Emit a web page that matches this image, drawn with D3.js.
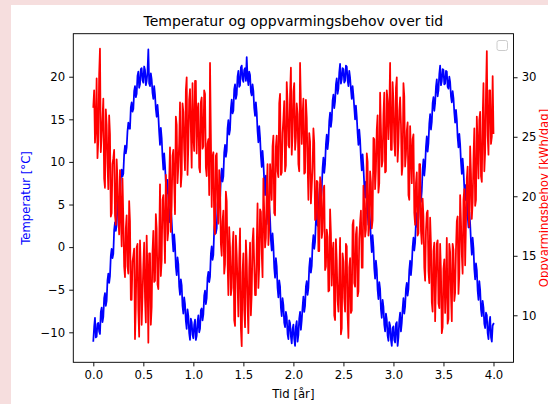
<!DOCTYPE html>
<html>
<head>
<meta charset="utf-8">
<script src="https://cdn.jsdelivr.net/npm/d3@7"></script>
<style>
  html, body { margin: 0; padding: 0; background: #f6dede; }
  svg { display: block; }
  text { font-family: "DejaVu Sans", sans-serif; }
</style>
</head>
<body>
<svg id="chart" width="548" height="404"></svg>
<script>
// ---- data ----
const title = "Temperatur og oppvarmingsbehov over tid";
const xLabel = "Tid [år]";
const yLeftLabel = "Temperatur [°C]";
const yRightLabel = "Oppvarmingsbehov [kWh/dag]";

const xTicks = [0.0, 0.5, 1.0, 1.5, 2.0, 2.5, 3.0, 3.5, 4.0];
const leftTicks = [-10, -5, 0, 5, 10, 15, 20];
const rightTicks = [10, 15, 20, 25, 30];

// sample times (years): grid samples and in-between samples, 120 per year
const years = d3.range(241).map(i => i / 60);
const yearsMid = d3.range(240).map(i => (i + 0.5) / 60);

const temperature = [
 -11.0,-8.3,-10.5,-8.9,-10.2,-7.1,-8.2,-5.4,-6.3,-3.1,-3.4,-0.2,-0.8,2.9,2.6,5.9,5.7,9.1,8.6,11.9,
 11.7,14.6,13.9,17.0,16.2,18.9,18.0,20.6,19.1,21.0,19.3,20.8,19.5,23.2,18.9,19.7,17.4,17.9,15.3,15.4,
 12.0,12.8,9.1,9.6,6.3,5.8,2.9,3.1,-0.5,0.2,-3.3,-2.0,-5.6,-4.5,-7.8,-6.7,-9.6,-8.1,-10.9,-8.8,
 -10.7,-8.5,-10.4,-8.0,-9.6,-7.2,-7.9,-5.1,-6.0,-2.9,-3.5,0.1,-0.9,3.0,2.2,6.1,5.4,9.2,8.3,12.0,
 11.3,14.9,13.8,17.3,16.0,19.1,17.9,20.7,19.0,21.3,19.4,21.0,22.3,19.0,20.2,17.8,18.3,15.4,15.8,12.3,
 12.9,9.4,9.9,6.1,6.5,2.7,3.4,-0.4,0.1,-3.6,-2.3,-5.9,-4.6,-8.1,-6.8,-9.4,-8.2,-10.8,-8.9,-11.3,
 -9.1,-11.6,-8.7,-10.3,-7.6,-8.6,-5.8,-6.9,-4.0,-4.8,-1.3,-2.2,1.4,0.6,4.3,3.8,7.4,6.8,10.5,9.7,
 13.2,12.5,15.8,15.0,17.9,17.1,19.8,18.6,21.5,19.7,20.9,19.5,21.2,18.9,19.9,17.4,17.8,15.0,15.3,12.0,
 12.6,9.0,9.4,5.8,6.3,2.6,3.0,-0.6,0.0,-3.7,-2.6,-6.1,-4.9,-8.3,-7.0,-9.9,-8.5,-11.0,-9.2,-11.6,
 -9.3,-11.2,-8.8,-10.6,-7.7,-8.9,-6.0,-7.0,-4.2,-4.9,-1.6,-2.1,1.1,0.5,4.0,3.6,7.2,6.6,10.3,9.5,
 13.0,12.2,15.6,14.7,17.6,16.9,19.7,18.4,21.3,19.5,20.8,19.2,20.6,18.6,19.4,17.0,17.5,14.6,15.0,11.7,
 12.1,8.6,9.0,5.5,5.9,2.3,2.8,-0.9,-0.1,-3.8,-2.7,-6.2,-5.0,-8.1,-7.1,-9.5,-8.0,-10.8,-8.2,-11.1,
 -9.0
];

const temperatureMid = [
 -9.4,-10.6,-9.0,-9.9,-7.6,-8.8,-6.0,-6.9,-3.9,-4.2,-1.0,-1.3,2.0,1.9,4.9,5.2,8.0,8.3,10.9,11.0,
 13.6,13.9,16.4,15.9,18.3,17.6,20.1,18.7,20.9,19.6,21.2,19.0,20.6,19.2,20.4,18.1,18.9,16.2,16.7,13.5,
 14.0,10.6,11.0,7.6,7.9,4.0,4.6,1.0,1.5,-2.3,-1.2,-4.6,-3.8,-6.9,-5.9,-8.7,-7.3,-10.1,-8.4,-10.3,
 -9.1,-10.9,-8.8,-10.0,-7.4,-8.6,-5.7,-6.7,-3.6,-4.1,-0.8,-1.5,2.1,1.6,5.0,4.8,8.1,7.7,11.1,10.6,
 13.9,13.2,16.3,15.7,18.5,17.4,20.0,18.8,21.1,19.7,20.8,19.5,19.9,20.6,18.2,19.1,16.3,17.0,13.6,14.2,
 10.7,11.3,7.8,8.4,4.2,4.9,0.8,1.6,-2.4,-1.3,-4.8,-3.9,-7.1,-6.0,-8.9,-7.6,-10.2,-8.6,-10.5,-9.6,
 -10.8,-9.3,-11.1,-8.4,-9.7,-7.0,-7.6,-4.6,-5.6,-2.4,-3.0,0.3,-0.2,3.2,2.5,6.2,5.5,9.3,8.7,12.1,
 11.5,14.8,14.1,17.2,16.3,19.1,18.0,20.5,19.2,21.0,19.3,21.3,19.6,20.7,18.5,18.9,16.4,16.6,13.4,13.8,
 10.4,10.9,7.3,7.7,4.0,4.5,0.9,1.4,-2.5,-1.6,-5.0,-4.1,-7.3,-6.2,-9.1,-7.8,-10.4,-8.8,-10.9,-9.5,
 -10.9,-9.0,-11.6,-8.6,-9.9,-7.2,-7.8,-4.9,-5.7,-2.7,-3.3,0.0,-0.4,3.0,2.3,6.0,5.3,9.1,8.4,11.8,
 11.2,14.5,13.8,16.9,16.0,18.8,17.7,20.3,19.0,20.9,19.1,20.7,18.8,20.0,17.7,18.3,15.8,16.1,12.9,13.3,
 10.0,10.4,6.9,7.3,3.7,4.1,0.6,1.1,-2.6,-1.9,-5.1,-4.0,-7.3,-6.3,-9.0,-7.7,-10.1,-8.9,-10.6,-9.2
];

const heating = [
 27.5,24.5,29.9,24.7,32.4,25.1,28.2,20.7,26.0,20.6,25.2,18.6,23.2,18.4,23.1,18.3,22.2,15.8,18.1,13.2,
 18.4,13.5,17.9,11.3,15.0,8.0,15.7,10.4,16.3,9.2,14.2,11.5,16.7,7.7,15.2,10.7,17.1,12.9,17.3,12.2,
 21.0,14.6,20.1,14.4,20.2,17.1,24.1,19.3,23.9,18.5,26.0,22.5,27.9,21.9,27.1,22.2,30.0,24.2,29.0,22.4,
 25.0,29.7,23.6,27.8,22.0,28.3,24.2,28.6,21.7,24.8,31.2,19.1,23.7,16.8,23.6,17.7,21.1,15.0,18.8,14.3,
 19.6,11.7,15.7,12.3,17.0,9.1,15.1,9.9,17.3,7.4,15.2,9.0,14.6,8.5,16.1,11.8,17.3,11.7,15.8,12.3,
 18.9,15.2,21.5,15.7,20.6,15.9,22.7,19.7,25.1,18.4,25.1,21.6,28.6,22.0,26.5,22.1,29.6,24.3,28.6,23.5,
 28.8,23.9,27.8,22.7,31.2,24.4,28.2,22.0,26.6,19.7,24.6,20.8,25.7,18.0,21.3,15.4,21.6,16.5,20.6,13.8,
 17.2,12.0,18.9,12.5,16.1,9.6,14.6,10.3,16.5,8.9,14.5,10.3,15.8,8.1,14.8,10.4,18.0,12.4,17.4,12.0,
 17.8,14.0,20.9,16.6,23.6,16.7,22.1,17.3,24.9,20.6,25.6,20.3,28.7,22.5,26.8,22.0,28.9,24.8,31.2,23.9,
 28.0,23.4,30.0,24.5,28.3,21.8,29.5,22.5,25.5,20.1,25.9,21.1,25.2,17.6,22.0,16.9,22.7,16.0,18.3,12.9,
 18.6,13.7,18.2,11.1,15.4,9.5,16.0,11.0,16.0,8.5,13.9,10.2,16.5,9.7,15.3,9.5,15.5,11.9,17.9,11.8,
 20.1,15.1,19.7,14.2,21.5,18.4,24.2,18.1,23.2,19.2,26.7,21.5,27.1,21.2,29.5,23.7,32.2,23.5,28.9,25.0,
 25.3
];

const heatingMid = [
 28.9,25.8,23.2,30.2,23.7,26.5,21.5,27.3,22.7,26.8,18.3,22.7,23.9,17.6,21.4,16.8,18.6,21.5,14.1,17.3,
 14.1,19.6,11.3,14.5,15.6,10.7,16.0,8.2,13.8,11.6,16.1,9.4,13.5,15.2,9.2,15.3,12.8,18.5,12.6,16.0,
 13.3,19.7,17.3,21.8,16.3,21.3,17.0,23.4,21.0,26.7,21.1,24.5,20.8,27.8,23.9,28.9,21.8,28.1,25.6,29.5,
 23.8,29.7,27.2,22.4,27.9,24.0,28.9,22.4,24.4,20.1,25.2,23.3,17.4,23.4,19.2,22.2,16.0,17.9,13.5,20.4,
 14.6,17.4,11.7,15.7,9.6,16.7,12.7,14.7,8.9,13.6,10.5,16.3,10.9,13.9,10.0,16.2,14.2,11.7,19.4,14.1,
 18.7,13.2,18.7,16.5,22.7,17.3,21.4,24.2,18.6,24.2,22.1,27.8,21.8,25.3,28.0,22.6,27.9,24.1,30.8,25.2,
 29.5,24.9,26.9,22.1,27.8,26.8,21.9,28.1,22.8,25.3,19.4,22.4,24.5,18.1,21.2,15.4,21.0,17.1,20.9,14.1,
 16.6,12.1,16.9,15.3,10.0,16.4,11.3,13.2,8.4,15.2,11.4,16.0,10.1,14.0,10.2,17.6,12.7,16.8,11.6,16.4,
 18.8,14.0,19.4,17.2,22.9,17.5,21.2,18.0,24.8,22.2,26.8,21.1,25.7,23.0,28.7,22.1,28.0,27.1,23.9,29.6,
 24.6,29.1,22.9,27.2,26.1,22.6,28.4,23.5,26.2,19.7,23.7,24.8,18.6,21.1,16.7,22.7,17.1,19.8,14.0,17.1,
 18.8,12.7,16.0,10.3,16.1,12.7,16.3,10.6,13.7,9.0,14.7,12.4,9.3,16.0,11.7,16.0,11.2,15.5,18.3,13.4,
 17.9,13.5,20.6,17.7,22.5,17.4,21.9,19.5,25.7,19.7,24.2,26.4,21.7,26.6,22.1,28.7,25.1,28.9,24.4,30.1
];

// merge grid + in-between samples into time-ordered point tables
function mergeSeries(tA, vA, tB, vB) {
  return vA.map((v, i) => ({ t: tA[i], v }))
    .concat(vB.map((v, i) => ({ t: tB[i], v })))
    .sort((a, b) => a.t - b.t);
}
const tempPts = mergeSeries(years, temperature, yearsMid, temperatureMid);
const heatPts = mergeSeries(years, heating, yearsMid, heatingMid);

// ---- layout ----
const svg = d3.select("#chart");
const W = 548, H = 404;
const pLeft = 73.3, pRight = 513.5, pTop = 33.7, pBottom = 362.3;
const s = 100 / 72 * 0.84; // px per pt

svg.append("rect").attr("x", 0).attr("y", 0).attr("width", W).attr("height", H).attr("fill", "#f6dede");
svg.append("rect").attr("x", 11).attr("y", 5).attr("width", W - 11).attr("height", H - 5).attr("fill", "#ffffff");

const x = d3.scaleLinear().domain([-0.2, 4.2]).range([pLeft, pRight]);
const yL = d3.scaleLinear().domain([-13.52, 25.05]).range([pBottom, pTop]);
const yR = d3.scaleLinear().domain([6.05, 33.66]).range([pBottom, pTop]);

svg.append("defs").append("clipPath").attr("id", "clip")
  .append("rect").attr("x", pLeft).attr("y", pTop).attr("width", pRight - pLeft).attr("height", pBottom - pTop);

const gPlot = svg.append("g").attr("clip-path", "url(#clip)");

const lineT = d3.line().x(d => x(d.t)).y(d => yL(d.v));
const lineH = d3.line().x(d => x(d.t)).y(d => yR(d.v));

gPlot.append("path").datum(tempPts).attr("d", lineT)
  .attr("fill", "none").attr("stroke", "#0000ff").attr("stroke-width", 1.5 * s)
  .attr("stroke-linejoin", "round").attr("stroke-linecap", "square");
gPlot.append("path").datum(heatPts).attr("d", lineH)
  .attr("fill", "none").attr("stroke", "#ff0000").attr("stroke-width", 1.5 * s)
  .attr("stroke-linejoin", "round").attr("stroke-linecap", "square");

// ---- axes ----
const tickLen = 3.5 * s, tickPad = 3.5 * s, fs = 10 * s;
const fmt1 = d3.format(".1f");
const fmt0 = d3.format("d");

const ax = d3.axisBottom(x).tickValues(xTicks).tickFormat(fmt1).tickSizeInner(tickLen).tickSizeOuter(0).tickPadding(tickPad);
const gx = svg.append("g").attr("transform", `translate(0,${pBottom})`).call(ax);
const ayL = d3.axisLeft(yL).tickValues(leftTicks).tickFormat(fmt0).tickSizeInner(tickLen).tickSizeOuter(0).tickPadding(tickPad);
const gyL = svg.append("g").attr("transform", `translate(${pLeft},0)`).call(ayL);
const ayR = d3.axisRight(yR).tickValues(rightTicks).tickFormat(fmt0).tickSizeInner(tickLen).tickSizeOuter(0).tickPadding(tickPad);
const gyR = svg.append("g").attr("transform", `translate(${pRight},0)`).call(ayR);

[gx, gyL, gyR].forEach(g => {
  g.select(".domain").remove();
  g.selectAll(".tick line").attr("stroke", "#000").attr("stroke-width", 0.8 * s);
  g.selectAll(".tick text").attr("fill", "#000").style("font-size", fs + "px").style("font-family", "DejaVu Sans");
});

// spines
svg.append("rect").attr("x", pLeft).attr("y", pTop).attr("width", pRight - pLeft).attr("height", pBottom - pTop)
  .attr("fill", "none").attr("stroke", "#000").attr("stroke-width", 0.8 * s);

// legend (empty)
svg.append("rect").attr("x", 497).attr("y", 40.5).attr("width", 10.5).attr("height", 10).attr("rx", 2)
  .attr("fill", "#fff").attr("fill-opacity", 0.8).attr("stroke", "#cccccc").attr("stroke-width", 1);

// ---- texts ----
svg.append("text").attr("x", (pLeft + pRight) / 2).attr("y", 26).attr("text-anchor", "middle")
  .style("font-size", (12 * s) + "px").attr("fill", "#000").text(title);

svg.append("text").attr("x", (pLeft + pRight) / 2).attr("y", 397.5).attr("text-anchor", "middle")
  .style("font-size", fs + "px").attr("fill", "#000").text(xLabel);

svg.append("text").attr("transform", `translate(30,${(pTop + pBottom) / 2}) rotate(-90)`).attr("text-anchor", "middle")
  .style("font-size", fs + "px").attr("fill", "#0000ff").text(yLeftLabel);

svg.append("text").attr("transform", `translate(539,${(pTop + pBottom) / 2}) rotate(-90)`).attr("text-anchor", "middle")
  .attr("dominant-baseline", "hanging")
  .style("font-size", fs + "px").attr("fill", "#ff0000").text(yRightLabel);
</script>
</body>
</html>
